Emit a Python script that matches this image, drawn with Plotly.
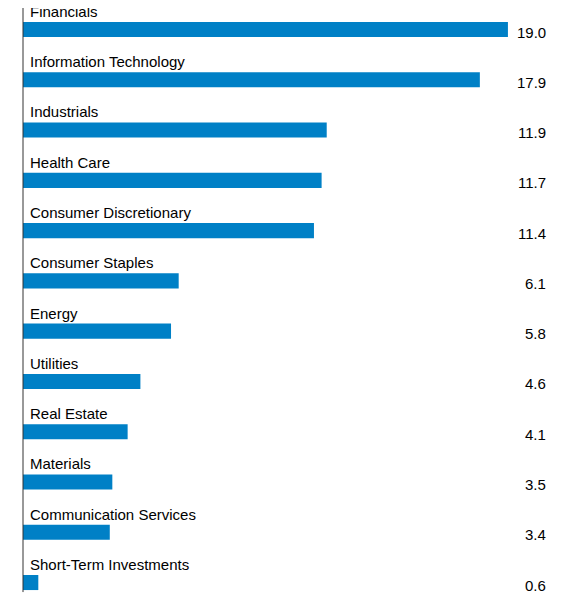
import plotly.graph_objects as go

sectors = ["Financials", "Information Technology", "Industrials", "Health Care",
           "Consumer Discretionary", "Consumer Staples", "Energy", "Utilities",
           "Real Estate", "Materials", "Communication Services", "Short-Term Investments"]
weights = [19.0, 17.9, 11.9, 11.7, 11.4, 6.1, 5.8, 4.6, 4.1, 3.5, 3.4, 0.6]

pos = list(range(len(sectors)))
font = dict(family="Liberation Sans, Arial, sans-serif", size=15, color="#000000")

fig = go.Figure(go.Bar(x=weights, y=pos, orientation="h", width=0.3,
                       marker=dict(color="#0080C6", line=dict(width=0)),
                       hoverinfo="skip"))

for i, (s, w) in enumerate(zip(sectors, weights)):
    fig.add_annotation(x=0, xref="paper", y=i - 0.36, yref="y", text=s,
                       showarrow=False, xanchor="left", xshift=5, font=font)
    fig.add_annotation(x=1, xref="paper", y=i + 0.05, yref="y", text=f"{w:.1f}",
                       showarrow=False, xanchor="right", font=font)

fig.add_shape(type="line", xref="paper", x0=0, x1=0, yref="y", y0=-0.43, y1=11.19,
              line=dict(color="#333333", width=1))

fig.update_layout(width=565, height=590, margin=dict(l=15, r=25, t=0, b=0),
                  paper_bgcolor="white", plot_bgcolor="white", showlegend=False,
                  xaxis=dict(range=[0, 20.57], visible=False, fixedrange=True),
                  yaxis=dict(range=[11.308, -0.428], visible=False, fixedrange=True))

fig.write_html("out.html", config={"displayModeBar": False})
